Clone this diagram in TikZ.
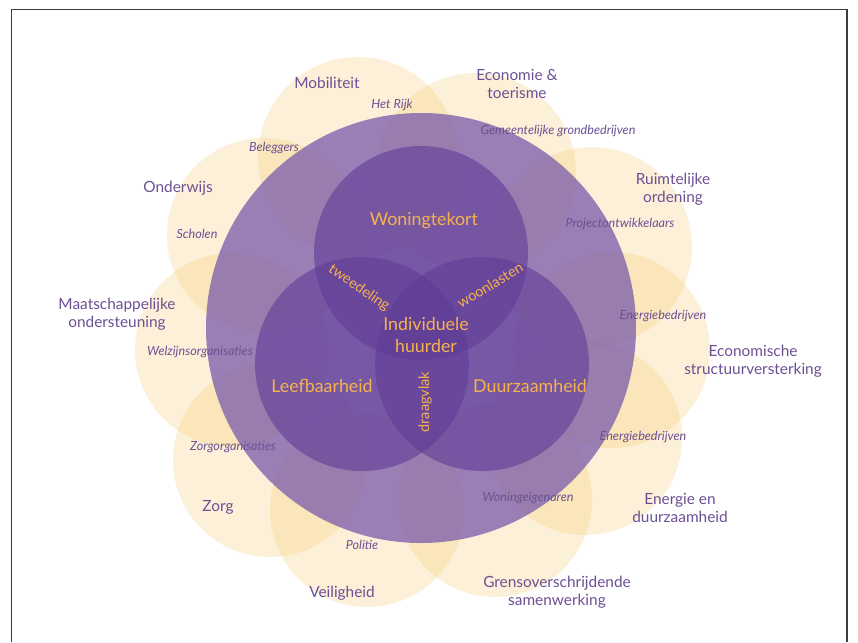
\documentclass[tikz,border=0pt]{standalone}
\usepackage{fontspec}
\setmainfont{Lato}
\definecolor{cream}{RGB}{247,200,100}
\definecolor{lilac}{RGB}{120,90,170}
\definecolor{plum}{RGB}{95,60,150}
\definecolor{labelpurple}{RGB}{108,80,148}
\definecolor{amber}{RGB}{246,178,76}
\definecolor{framegrey}{RGB}{60,60,60}
\tikzset{
  domain/.style={circle, inner sep=0pt, minimum size=#1, fill=cream, fill opacity=0.25, draw=none},
  outerdisc/.style={circle, inner sep=0pt, minimum size=430pt, fill=lilac, fill opacity=0.75, draw=none},
  theme/.style={circle, inner sep=0pt, minimum size=214pt, fill=plum, fill opacity=0.6, draw=none},
  sector/.style={text=labelpurple, font=\fontsize{15.4}{18}\selectfont, align=center, inner sep=1pt},
  actor/.style={text=labelpurple, font=\fontsize{12.6}{14}\selectfont\itshape, inner sep=1pt},
  core/.style={text=amber, font=\fontsize{17.8}{21}\selectfont, align=center, inner sep=1pt},
  overlapword/.style={text=amber, font=\fontsize{14.5}{16}\selectfont, inner sep=1pt},
}
\begin{document}
\begin{tikzpicture}[x=1pt,y=-1pt]
\useasboundingbox (0,0) rectangle (858,642);
\fill[white] (0,0) rectangle (858,642);
% frame
\draw[framegrey, line width=1.2pt] (11.5,642) -- (11.5,9.5) -- (847,9.5) -- (847,642);

% policy domains around the core
\node[domain=200pt] (mob) at (358,157) {};
\node[domain=200pt] (eco) at (476,173) {};
\node[domain=200pt] (rui) at (592,247) {};
\node[domain=196pt] (str) at (612,350) {};
\node[domain=194pt] (ene) at (585,438) {};
\node[domain=194pt] (gre) at (495,500) {};
\node[domain=194pt] (vei) at (367,510) {};
\node[domain=194pt] (zor) at (270,460) {};
\node[domain=194pt] (maa) at (232,350) {};
\node[domain=194pt] (ond) at (264,235) {};

% large disc and the three themes
\node[outerdisc] (disc) at (421,328) {};
\node[theme] (won) at (421,253) {};
\node[theme] (lee) at (362,364) {};
\node[theme] (duu) at (482,364) {};

% domain labels
\node[sector] (tmob) at (327,83) {Mobiliteit};
\node[sector] (teco) at (517,84) {Economie \&\\toerisme};
\node[sector] (trui) at (673,189) {Ruimtelijke\\ordening};
\node[sector] (tstr) at (753,361) {Economische\\structuurversterking};
\node[sector] (tene) at (680,508) {Energie en\\duurzaamheid};
\node[sector] (tgre) at (557,592) {Grensoverschrijdende\\samenwerking};
\node[sector] (tvei) at (342,593) {Veiligheid};
\node[sector] (tzor) at (218,507) {Zorg};
\node[sector] (tmaa) at (117,314) {Maatschappelijke\\ondersteuning};
\node[sector] (tond) at (178,188) {Onderwijs};

% actors
\node[actor] (arijk) at (392,105) {Het Rijk};
\node[actor] (abel) at (274,148) {Beleggers};
\node[actor] (agem) at (558,131) {Gemeentelijke grondbedrijven};
\node[actor] (asch) at (197,234) {Scholen};
\node[actor] (apro) at (620,224) {Projectontwikkelaars};
\node[actor] (aen1) at (663,316) {Energiebedrijven};
\node[actor] (awel) at (200,352) {Welzijnsorganisaties};
\node[actor] (aen2) at (643,437) {Energiebedrijven};
\node[actor] (azor) at (233,447) {Zorgorganisaties};
\node[actor] (aeig) at (528,498) {Woningeigenaren};
\node[actor] (apol) at (362,545) {Politie};

% themes and their overlaps
\node[core] (cwon) at (424,221) {Woningtekort};
\node[core] (clee) at (322,386) {Leefbaarheid};
\node[core] (cduu) at (530,386) {Duurzaamheid};
\node[core, font=\fontsize{17.8}{22}\selectfont] (chuu) at (426,335) {Individuele\\huurder};
\node[overlapword, rotate=-34] (ttwe) at (359,288) {tweedeling};
\node[overlapword, rotate=31] (twoo) at (490,285) {woonlasten};
\node[overlapword, rotate=90] (tdra) at (425,402) {draagvlak};
\end{tikzpicture}
\end{document}
